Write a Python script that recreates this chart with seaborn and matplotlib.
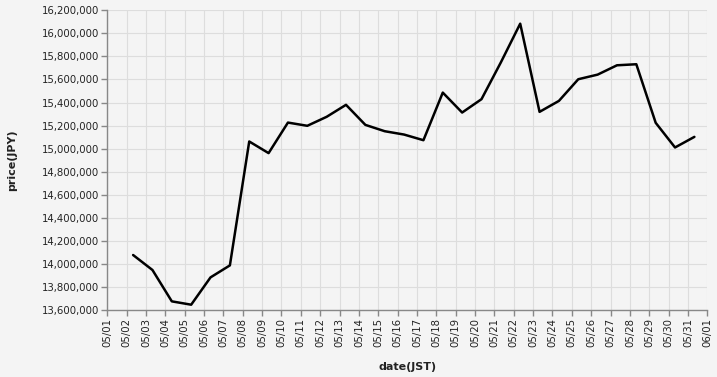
import matplotlib
matplotlib.use("Agg")
import matplotlib.pyplot as plt
import matplotlib.dates as mdates
import matplotlib.ticker as mticker
import seaborn as sns
import pandas as pd

dates = ["05/02", "05/03", "05/04", "05/05", "05/06", "05/07", "05/08", "05/09",
         "05/10", "05/11", "05/12", "05/13", "05/14", "05/15", "05/16", "05/17",
         "05/18", "05/19", "05/20", "05/21", "05/22", "05/23", "05/24", "05/25",
         "05/26", "05/27", "05/28", "05/29", "05/30", "05/31"]
prices = [14077000, 13947000, 13675000, 13646000, 13883000, 13987000, 15062000,
          14961000, 15226000, 15198000, 15276000, 15380000, 15206000, 15151000,
          15122000, 15073000, 15486000, 15313000, 15429000, 15748000, 16084000,
          15319000, 15414000, 15602000, 15642000, 15723000, 15732000, 15224000,
          15010000, 15102000]

df = pd.DataFrame({
    "date(JST)": pd.to_datetime(["2024/" + d + " 08:00" for d in dates]),
    "price(JPY)": prices,
})

sns.set_theme(style="whitegrid")
plt.rcParams["font.family"] = ["DejaVu Sans"]

BG = "#f4f4f4"
fig = plt.figure(figsize=(7.17, 3.77), dpi=100, facecolor=BG)
ax = fig.add_axes([107.3 / 717, 67 / 377, 600 / 717, 299.7 / 377])
ax.set_facecolor(BG)

sns.lineplot(data=df, x="date(JST)", y="price(JPY)", ax=ax, color="black",
             linewidth=1.8)

ax.set_xlim(pd.Timestamp("2024-05-01"), pd.Timestamp("2024-06-01"))
ax.set_ylim(13600000, 16200000)
ax.xaxis.set_major_locator(mdates.DayLocator())
ax.xaxis.set_major_formatter(mdates.DateFormatter("%m/%d"))
ax.yaxis.set_major_locator(mticker.MultipleLocator(200000))
ax.yaxis.set_major_formatter(mticker.FuncFormatter(lambda v, p: f"{int(round(v)):,}"))

ax.grid(True, color="#dddddd", linewidth=0.8)
for s in ["top", "right"]:
    ax.spines[s].set_visible(False)
for s in ["left", "bottom"]:
    ax.spines[s].set_visible(True)
    ax.spines[s].set_color("#888888")
    ax.spines[s].set_linewidth(1)

ax.tick_params(axis="both", which="major", length=4, width=1, color="#888888",
               labelsize=7.3, labelcolor="#222222", pad=2,
               bottom=True, left=True)
plt.setp(ax.get_xticklabels(), rotation=90, ha="center", va="top")

ax.set_xlabel("date(JST)", fontsize=8, fontweight="bold", color="#222222")
ax.set_ylabel("price(JPY)", fontsize=8, fontweight="bold", color="#222222")
ax.xaxis.set_label_coords(0.5, -0.19)
ax.xaxis.label.set_va("center")
ax.yaxis.set_label_coords(-0.159, 0.5)
ax.yaxis.label.set_va("center")

fig.savefig("out.png", dpi=100, facecolor=BG)
